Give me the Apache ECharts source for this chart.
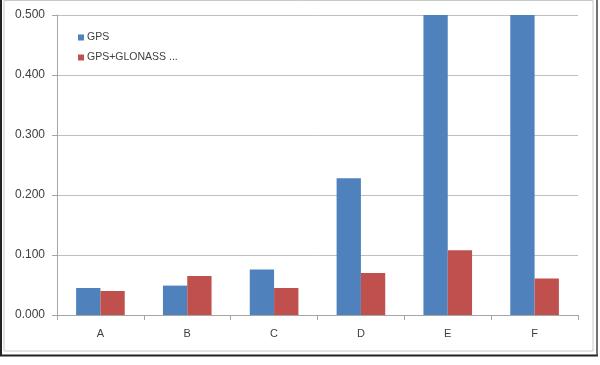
<!DOCTYPE html>
<html>
<head>
<meta charset="utf-8">
<script src="https://cdn.jsdelivr.net/npm/echarts@6/dist/echarts.min.js"></script>
<style>
html, body { margin: 0; padding: 0; background: #fff; }
#chart { width: 600px; height: 365px; }
</style>
</head>
<body>
<div id="chart"></div>
<script>
var categories = ['A', 'B', 'C', 'D', 'E', 'F'];
var gps = [0.045, 0.049, 0.076, 0.228, 0.56, 0.54];
var gpsGlonass = [0.040, 0.065, 0.045, 0.070, 0.108, 0.061];
var seriesNames = ['GPS', 'GPS+GLONASS ...'];

var chart = echarts.init(document.getElementById('chart'));
var option = {
    animation: false,
    textStyle: { fontFamily: 'Liberation Sans, Arial, sans-serif' },
    grid: { left: 57, right: 22, top: 15, bottom: 50 },
    legend: {
        orient: 'vertical',
        left: 73,
        top: 27,
        itemWidth: 6,
        itemHeight: 6,
        itemGap: 9,
        icon: 'rect',
        textStyle: { fontSize: 10.5, color: '#404040', padding: [0, 0, 0, -2] },
        data: seriesNames
    },
    // outer frame of the pasted picture
    graphic: [
        { type: 'rect', shape: { x: 4, y: 0.5, width: 589, height: 350.5 }, style: { fill: 'none', stroke: '#c8c8c8', lineWidth: 1 } },
        { type: 'line', shape: { x1: 1, y1: 0, x2: 1, y2: 356 }, style: { stroke: '#222', lineWidth: 2 } },
        { type: 'line', shape: { x1: 0, y1: 355.5, x2: 598, y2: 355.5 }, style: { stroke: '#222', lineWidth: 2 } },
        { type: 'line', shape: { x1: 597, y1: 0, x2: 597, y2: 356 }, style: { stroke: '#444', lineWidth: 1.5 } }
    ],
    xAxis: {
        type: 'category',
        data: categories,
        axisLine: { lineStyle: { color: '#a6a6a6' } },
        axisTick: { show: true, length: 5, lineStyle: { color: '#a6a6a6' } },
        axisLabel: { fontSize: 11, color: '#404040', margin: 13 }
    },
    yAxis: {
        type: 'value',
        min: 0,
        max: 0.5,
        interval: 0.1,
        axisLine: { show: true, lineStyle: { color: '#a6a6a6' } },
        axisTick: { show: true, length: 5, lineStyle: { color: '#a6a6a6' } },
        axisLabel: {
            fontSize: 12,
            color: '#404040',
            margin: 12,
            formatter: function (v) { return v.toFixed(3); }
        },
        splitLine: { lineStyle: { color: '#bfbfbf' } }
    },
    series: [
        {
            name: seriesNames[0],
            type: 'bar',
            data: gps,
            clip: true,
            barGap: '0%',
            barCategoryGap: '44%',
            itemStyle: { color: '#4f81bd' }
        },
        {
            name: seriesNames[1],
            type: 'bar',
            data: gpsGlonass,
            clip: true,
            itemStyle: { color: '#c0504d' }
        }
    ]
};
chart.setOption(option);
</script>
</body>
</html>
